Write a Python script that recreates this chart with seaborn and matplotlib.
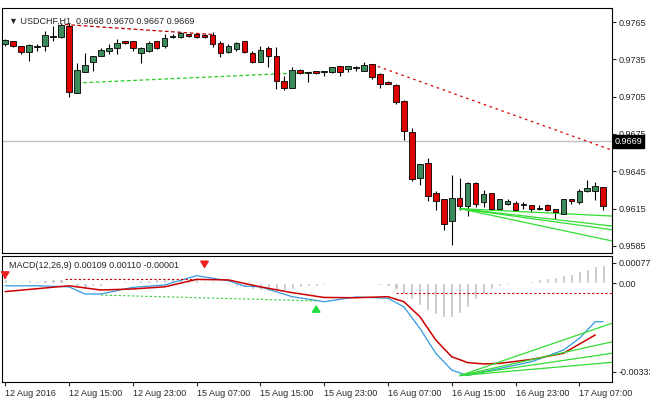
import matplotlib
matplotlib.use("Agg")
import matplotlib.pyplot as plt
import numpy as np
import pandas as pd
import seaborn as sns

# candles (USDCHF H1)
opens = [0.9747, 0.9749, 0.9745, 0.9741, 0.9745, 0.9746, 0.9753, 0.9753, 0.9761, 0.9708,
         0.9725, 0.9733, 0.9738, 0.9742, 0.9744, 0.9749, 0.9749, 0.9740, 0.9742, 0.9749,
         0.9746, 0.9753, 0.9753, 0.9755, 0.9755, 0.9754, 0.9754, 0.9748, 0.9741, 0.9743,
         0.9749, 0.9740, 0.9733, 0.9744, 0.9737, 0.9717, 0.9712, 0.9726, 0.9724, 0.9725,
         0.9725, 0.9725, 0.9729, 0.9727, 0.9728, 0.9726, 0.9731, 0.9723, 0.9716, 0.9714,
         0.9701, 0.9676, 0.9640, 0.9651, 0.9627, 0.9622, 0.9605, 0.9623, 0.9617, 0.9635,
         0.9620, 0.9627, 0.9615, 0.9619, 0.9619, 0.9618, 0.9617, 0.9615, 0.9617, 0.9614,
         0.9611, 0.9622, 0.9620, 0.9629, 0.9629, 0.9632]
highs = [0.9751, 0.9750, 0.9746, 0.9747, 0.9747, 0.9758, 0.9762, 0.9764, 0.9764, 0.9732,
         0.9740, 0.9738, 0.9744, 0.9747, 0.9751, 0.9750, 0.9750, 0.9745, 0.9750, 0.9750,
         0.9755, 0.9755, 0.9757, 0.9755, 0.9756, 0.9755, 0.9757, 0.9750, 0.9747, 0.9749,
         0.9750, 0.9742, 0.9746, 0.9746, 0.9745, 0.9722, 0.9729, 0.9727, 0.9725, 0.9726,
         0.9726, 0.9729, 0.9730, 0.9730, 0.9730, 0.9733, 0.9731, 0.9724, 0.9718, 0.9715,
         0.9702, 0.9680, 0.9651, 0.9656, 0.9629, 0.9623, 0.9642, 0.9640, 0.9636, 0.9636,
         0.9630, 0.9627, 0.9623, 0.9623, 0.9621, 0.9620, 0.9618, 0.9618, 0.9619, 0.9615,
         0.9623, 0.9623, 0.9631, 0.9638, 0.9636, 0.9632]
lows = [0.9746, 0.9745, 0.9739, 0.9734, 0.9742, 0.9742, 0.9750, 0.9752, 0.9705, 0.9708,
        0.9725, 0.9726, 0.9738, 0.9739, 0.9739, 0.9747, 0.9742, 0.9732, 0.9741, 0.9743,
        0.9744, 0.9752, 0.9752, 0.9753, 0.9752, 0.9752, 0.9745, 0.9737, 0.9740, 0.9742,
        0.9740, 0.9732, 0.9733, 0.9729, 0.9711, 0.9710, 0.9712, 0.9723, 0.9717, 0.9723,
        0.9722, 0.9724, 0.9722, 0.9725, 0.9726, 0.9726, 0.9719, 0.9712, 0.9715, 0.9699,
        0.9670, 0.9637, 0.9634, 0.9621, 0.9614, 0.9598, 0.9586, 0.9614, 0.9609, 0.9616,
        0.9616, 0.9614, 0.9614, 0.9618, 0.9613, 0.9615, 0.9612, 0.9614, 0.9613, 0.9607,
        0.9611, 0.9619, 0.9619, 0.9628, 0.9622, 0.9614]
closes = [0.9750, 0.9746, 0.9741, 0.9746, 0.9745, 0.9754, 0.9753, 0.9762, 0.9709, 0.9726,
          0.9730, 0.9737, 0.9742, 0.9744, 0.9748, 0.9748, 0.9744, 0.9744, 0.9748, 0.9744,
          0.9752, 0.9753, 0.9756, 0.9754, 0.9753, 0.9753, 0.9747, 0.9740, 0.9745, 0.9748,
          0.9741, 0.9733, 0.9742, 0.9738, 0.9718, 0.9712, 0.9726, 0.9724, 0.9724, 0.9724,
          0.9725, 0.9728, 0.9725, 0.9729, 0.9728, 0.9730, 0.9721, 0.9715, 0.9715, 0.9701,
          0.9677, 0.9639, 0.9650, 0.9625, 0.9621, 0.9603, 0.9623, 0.9617, 0.9635, 0.9619,
          0.9626, 0.9615, 0.9622, 0.9621, 0.9614, 0.9618, 0.9615, 0.9615, 0.9614, 0.9612,
          0.9622, 0.9621, 0.9629, 0.9631, 0.9633, 0.9617]

# MACD panel
hist = [0.00015, 0.0001, 0.0001, 0.00012, 0.00008, 0.00012, 0.00015, 0.00018,
        0.0, -0.0001, -0.00012, -0.0001, -0.00008,
        0.00003, 0.00005, 0.00008, 0.0001, 0.00012, 0.00012, 0.00015, 0.00018, 0.0002,
        0.00022, 0.00018, 0.00015, 0.0001, 0.00008, 0.00005,
        -0.00005, -0.0001, -0.00015, -0.0002, -0.00025, -0.0003, -0.00028, -0.00025,
        -0.0002, -0.00015, -0.0001, -0.00008, -0.00005,
        -0.00003, 0.00002, 0.00003, 0.00002, 0.0, -0.00002, -0.00005, -0.00008,
        -0.0002, -0.0004, -0.0006, -0.0008, -0.001, -0.00115, -0.00125, -0.00125,
        -0.0011, -0.0009, -0.0006, -0.0004, -0.0002,
        -0.0001, -0.00005, 0.0, 0.00005, 0.0001, 0.00015, 0.0002, 0.00025, 0.0003,
        0.00035, 0.00045, 0.00055, 0.00065, 0.0007]
blue_bars = [0, 4, 8, 10, 12, 16, 20, 24, 28, 30, 32, 36, 40, 44, 48, 50, 52, 54, 56, 58,
             60, 62, 66, 70, 72, 74, 75]
blue_vals = [-0.00009, -0.00009, -0.00013, -0.0004, -0.0004, -0.00015, -0.00006, 0.00029,
             0.0001, -0.0001, -0.00013, -0.0005, -0.00069, -0.00051, -0.00056, -0.00088,
             -0.00169, -0.00263, -0.00326, -0.00347, -0.00332, -0.0032, -0.00295, -0.00251,
             -0.00207, -0.00144, -0.00144]
red_bars = [0, 8, 12, 16, 20, 24, 28, 32, 36, 40, 44, 48, 50, 52, 54, 56, 58, 60, 62, 66,
            70, 74]
red_vals = [-0.00031, -0.00009, -0.00025, -0.00021, -0.00013, 0.00015, 0.00013, -0.00013,
            -0.00035, -0.00053, -0.00054, -0.0005, -0.00069, -0.00125, -0.00213, -0.00276,
            -0.00298, -0.00303, -0.00301, -0.00286, -0.00263, -0.00194]

tick_labels = ["12 Aug 2016", "12 Aug 15:00", "12 Aug 23:00", "15 Aug 07:00", "15 Aug 15:00",
               "15 Aug 23:00", "16 Aug 07:00", "16 Aug 15:00", "16 Aug 23:00", "17 Aug 07:00"]
price_ticks = [0.9765, 0.9735, 0.9705, 0.9675, 0.9645, 0.9615, 0.9585]

sns.set_style("white")
plt.rcParams["font.family"] = ["Liberation Sans", "DejaVu Sans"]
fs = 6.5
fig = plt.figure(figsize=(6.5, 4), dpi=100)
ax = fig.add_axes([2 / 650, 1 - 253 / 400, 610 / 650, 245 / 400])
ax2 = fig.add_axes([2 / 650, 1 - 382 / 400, 610 / 650, 126 / 400])

n = len(closes)
idx = np.arange(n)
up = np.array(closes) >= np.array(opens)
bodyc = np.where(up, "#3a8a5a", "#e00000")
ax.vlines(idx, lows, highs, color="black", lw=0.8, zorder=2)
ax.bar(idx, np.abs(np.array(closes) - np.array(opens)) + 0.00005,
       bottom=np.minimum(opens, closes), width=0.7, color=bodyc,
       edgecolor="black", lw=0.6, zorder=3)
ax.axhline(0.9669, color="#c0c0c0", lw=1, zorder=1)
# trend lines
ax.plot([7.5, 26], [0.9763, 0.9755], color="#c00000", ls=(0, (3, 2)), lw=0.9)
ax.plot([46, 76.1], [0.9731, 0.9662], color="#d00000", ls=(0, (2, 3)), lw=0.9)
ax.plot([9, 40], [0.9716, 0.9725], color="#22cc22", ls=(0, (3, 2)), lw=0.9)
for end in [0.9609, 0.9601, 0.9598, 0.9589]:
    ax.plot([57, 76.1], [0.9615, end], color="#33dd33", lw=0.9)
ax.set_xlim(-0.4, 76.1)
ax.set_ylim(0.95793, 0.97763)
ax.yaxis.tick_right()
ax.set_yticks(price_ticks)
ax.set_yticklabels([f"{t:.4f}" for t in price_ticks], fontsize=fs)
ax.tick_params(axis="y", length=3, pad=2, direction="out", right=True)
ax.set_xticks([])
ax.text(1.004, 0.9669, "0.9669", transform=ax.get_yaxis_transform(), fontsize=fs,
        color="white", ha="left", va="center", clip_on=False,
        bbox=dict(boxstyle="square,pad=0.2", fc="black", ec="black"))
ax.text(0.012, 0.965, "\u25bc USDCHF,H1  0.9668 0.9670 0.9667 0.9669", transform=ax.transAxes,
        fontsize=fs, va="top")

# MACD
ax2.bar(idx, hist, width=0.4, color="#c0c0c0", zorder=1)
sns.lineplot(x=blue_bars, y=blue_vals, ax=ax2, color="#3399dd", lw=0.9)
sns.lineplot(x=red_bars, y=red_vals, ax=ax2, color="#cc0000", lw=1.1)
ax2.plot([7.5, 26], [0.00015, 0.00015], color="#cc0000", ls=(0, (2, 2)), lw=0.8)
ax2.plot([49, 76.1], [-0.00038, -0.00038], color="#dd0000", ls=(0, (2, 2)), lw=0.8)
ax2.plot([12, 39], [-0.00044, -0.00066], color="#33cc33", ls=(0, (2, 2)), lw=0.8)
for end in [-0.0015, -0.0022, -0.00263, -0.00297]:
    ax2.plot([57, 76.1], [-0.00347, end], color="#33dd33", lw=0.9)
for bx, y0, y1, c in [(25, 0.00085, 0.00045, "#ee2222"), (0, 0.00035, 0.00005, "#ee2222"),
                      (39, -0.00105, -0.0007, "#22dd44")]:
    ax2.annotate("", xy=(bx, y1), xytext=(bx, y0), annotation_clip=False,
                 arrowprops=dict(arrowstyle="-|>,head_width=0.25,head_length=0.4",
                                 color=c, lw=1.3))
ax2.set_xlim(-0.4, 76.1)
ax2.set_ylim(-0.00371, 0.00103)
ax2.yaxis.tick_right()
ax2.set_yticks([0.00077, 0.0, -0.00333])
ax2.set_yticklabels(["0.00077", "0.00", "-0.00333"], fontsize=fs)
ax2.tick_params(axis="y", length=3, pad=2, right=True)
ax2.set_xticks(np.arange(0, 73, 8))
ax2.set_xticklabels(tick_labels, fontsize=fs, ha="left")
ax2.tick_params(axis="x", length=3, pad=2, bottom=True)
ax2.text(0.012, 0.96, "MACD(12,26,9) 0.00109 0.00110 -0.00001", transform=ax2.transAxes,
         fontsize=fs, va="top")
ax2.set_xlabel("")
ax2.set_ylabel("")
for a in (ax, ax2):
    for s in a.spines.values():
        s.set_color("black")
        s.set_linewidth(0.8)

fig.savefig("out.png", dpi=100)
